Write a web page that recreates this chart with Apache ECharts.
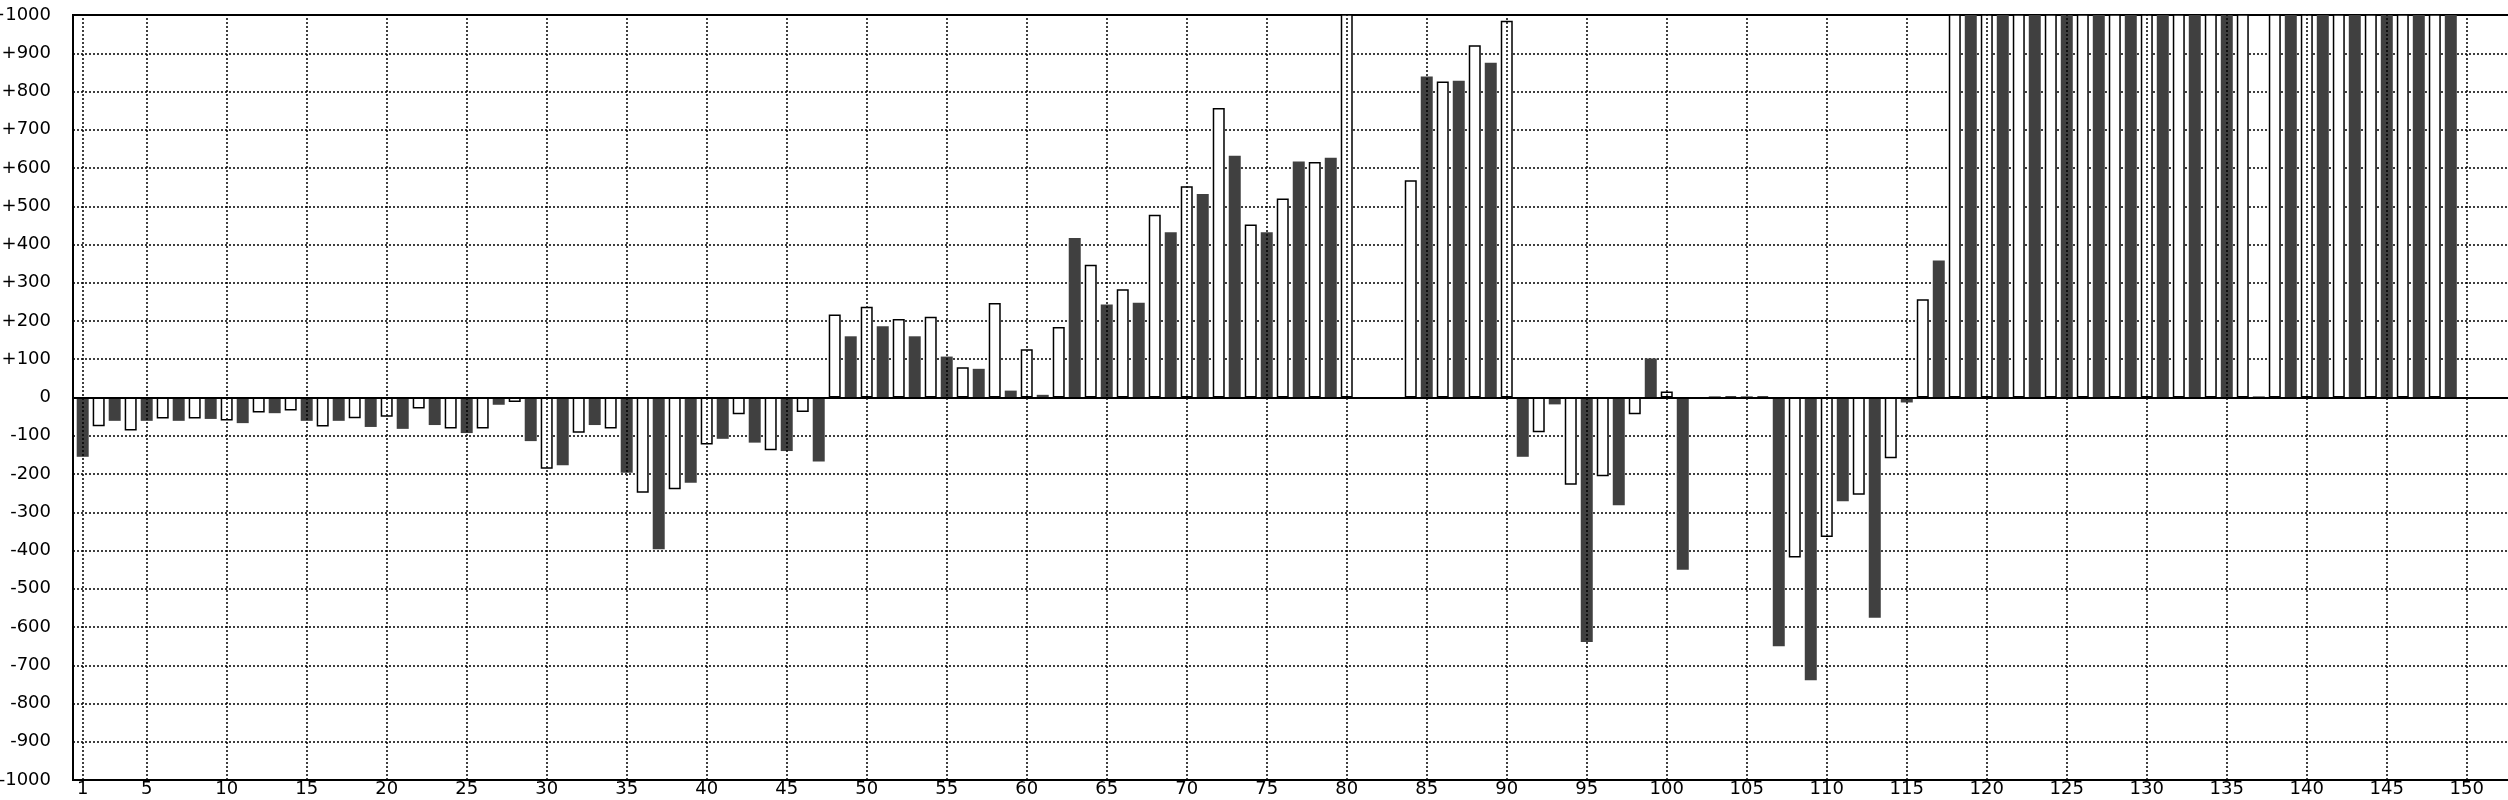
<!DOCTYPE html>
<html>
<head>
<meta charset="utf-8">
<script src="https://cdn.jsdelivr.net/npm/echarts@6/dist/echarts.min.js"></script>
<style>
html,body{margin:0;padding:0;background:#fff;}
#chart{width:2508px;height:800px;}
</style>
</head>
<body>
<div id="chart"></div>
<script>
// Categories (bar positions 1..150)
const categories = [1,2,3,4,5,6,7,8,9,10,11,12,13,14,15,16,17,18,19,20,21,22,23,24,25,26,27,28,29,30,
  31,32,33,34,35,36,37,38,39,40,41,42,43,44,45,46,47,48,49,50,51,52,53,54,55,56,57,58,59,60,
  61,62,63,64,65,66,67,68,69,70,71,72,73,74,75,76,77,78,79,80,81,82,83,84,85,86,87,88,89,90,
  91,92,93,94,95,96,97,98,99,100,101,102,103,104,105,106,107,108,109,110,111,112,113,114,115,116,117,118,119,120,
  121,122,123,124,125,126,127,128,129,130,131,132,133,134,135,136,137,138,139,140,141,142,143,144,145,146,147,148,149,150];

// Values (values above 1000 are clipped at the top of the plot)
const values1to50 = [-155,-75,-61,-86,-61,-55,-61,-55,-56,-60,-67,-39,-41,-34,-61,-76,-61,-54,-77,-50,
  -82,-29,-72,-81,-93,-81,-19,-12,-114,-186,-177,-92,-72,-81,-197,-249,-397,-240,-223,-123,
  -108,-44,-118,-138,-140,-38,-167,217,160,237];
const values51to100 = [186,205,160,211,107,79,75,247,18,126,7,184,417,347,243,283,248,478,432,552,
  532,757,632,452,432,520,617,616,627,1100,'-','-','-',568,839,826,828,921,875,985,
  -155,-91,-18,-228,-639,-206,-282,-44,102,16];
const values101to150 = [-450,'-',3,3,3,3,-650,-418,-739,-365,-271,-254,-576,-159,-13,257,358,1100,1100,1100,
  1100,1100,1100,1100,1100,1100,1100,1100,1100,1100,1100,1100,1100,1100,1100,1100,3,1100,1100,1100,
  1100,1100,1100,1100,1100,1100,1100,1100,1100,'-'];
const values = values1to50.concat(values51to100, values101to150);

// Tick labels
const xTicks = [1,5,10,15,20,25,30,35,40,45,50,55,60,65,70,75,80,85,90,95,100,105,110,115,120,125,130,135,140,145,150];

const darkStyle = {color:'#404040', borderWidth:0};
const whiteStyle = {color:'#ffffff', borderColor:'#000000', borderWidth:1.5};

const barData = categories.map((c, i) => ({
  value: [c, values[i]],
  itemStyle: (c % 2 === 1) ? darkStyle : whiteStyle
}));

const font = {fontFamily:'DejaVu Sans', fontSize:18, color:'#000'};
const dotted = {color:'#000', width:1.5, type:[2,2]};

const chart = echarts.init(document.getElementById('chart'), null, {renderer:'canvas'});
chart.setOption({
  animation:false,
  backgroundColor:'#fff',
  grid:{left:73, right:-10, top:15, bottom:20, containLabel:false, outerBoundsMode:'none',
        show:true, borderColor:'#000', borderWidth:2, backgroundColor:'transparent'},
  xAxis:{
    type:'value',
    min:0.394, max:153.2,
    axisLine:{show:false},
    axisTick:{show:false},
    axisLabel:Object.assign({customValues:xTicks, margin:0, showMinLabel:true, showMaxLabel:true}, font),
    splitLine:{show:false}
  },
  yAxis:{
    type:'value',
    min:-1000, max:1000, interval:100,
    axisLine:{show:false},
    axisTick:{show:false},
    axisLabel:Object.assign({margin:22, showMinLabel:true, showMaxLabel:true,
      formatter:v => v > 0 ? '+' + v : String(v)}, font),
    splitLine:{show:true, lineStyle:dotted}
  },
  series:[{
    type:'line',
    data:[],
    z:1,
    silent:true,
    markLine:{
      silent:true, symbol:'none', label:{show:false},
      lineStyle:dotted,
      data:xTicks.map(v => ({xAxis:v}))
    }
  },{
    type:'bar',
    data:barData,
    barWidth:12,
    clip:true,
    z:2,
    markLine:{
      silent:true, symbol:'none', label:{show:false},
      lineStyle:{color:'#000', width:2, type:'solid'},
      data:[{yAxis:0}]
    }
  }]
});
</script>
</body>
</html>
